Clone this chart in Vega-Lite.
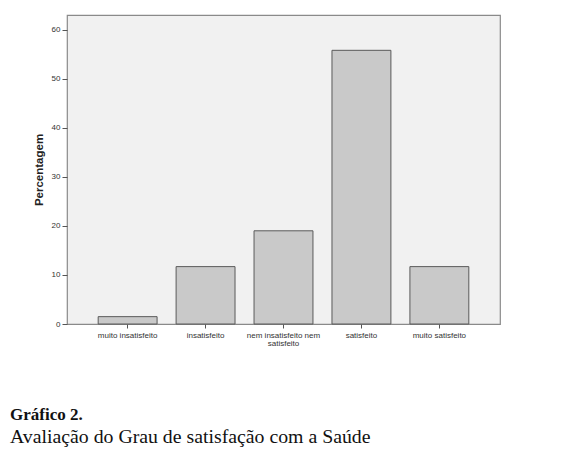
{
  "$schema": "https://vega.github.io/schema/vega-lite/v6.json",
  "width": 433,
  "height": 309,
  "autosize": "none",
  "padding": {"left": 67, "top": 15, "right": 80, "bottom": 141},
  "background": "white",
  "title": {
    "text": "Gráfico 2.",
    "subtitle": "\u2005Avaliação do Grau de satisfação com a Saúde",
    "orient": "bottom",
    "anchor": "start",
    "frame": "group",
    "dx": -57,
    "offset": 60,
    "font": "Liberation Serif",
    "fontSize": 17,
    "fontWeight": "bold",
    "color": "#111111",
    "subtitleFont": "Liberation Serif",
    "subtitleFontSize": 19.8,
    "subtitleColor": "#111111",
    "subtitlePadding": 3
  },
  "data": {
    "values": [
      {"categoria": "muito insatisfeito", "percentagem": 1.5},
      {"categoria": "insatisfeito", "percentagem": 11.7},
      {"categoria": "nem insatisfeito nem satisfeito", "percentagem": 19.0},
      {"categoria": "satisfeito", "percentagem": 55.8},
      {"categoria": "muito satisfeito", "percentagem": 11.7}
    ]
  },
  "mark": {"type": "bar", "fill": "#c9c9c9", "stroke": "#5a5a5a", "strokeWidth": 1},
  "encoding": {
    "x": {
      "field": "categoria",
      "type": "nominal",
      "sort": null,
      "title": null,
      "scale": {"paddingInner": 0.244, "paddingOuter": 0.4},
      "axis": {
        "labelAngle": 0,
        "labelFont": "Liberation Sans",
        "labelFontSize": 8,
        "labelColor": "#333333",
        "labelExpr": "datum.value == 'nem insatisfeito nem satisfeito' ? ['nem insatisfeito nem', 'satisfeito'] : datum.value",
        "labelLineHeight": 8,
        "labelPadding": 3,
        "tickSize": 4,
        "tickColor": "#555555",
        "domain": false,
        "grid": false
      }
    },
    "y": {
      "field": "percentagem",
      "type": "quantitative",
      "title": "Percentagem",
      "scale": {"domain": [0, 63], "nice": false},
      "axis": {
        "values": [0, 10, 20, 30, 40, 50, 60],
        "labelFont": "Liberation Sans",
        "labelFontSize": 8,
        "labelColor": "#333333",
        "tickSize": 5,
        "tickColor": "#555555",
        "labelPadding": 2,
        "domain": false,
        "grid": false,
        "titleFont": "Liberation Sans",
        "titleFontSize": 11.5,
        "titleFontWeight": "bold",
        "titleColor": "#222222",
        "titlePadding": 7
      }
    }
  },
  "config": {
    "view": {"fill": "#f1f1f1", "stroke": "#8a8a8a", "strokeWidth": 1.2}
  }
}
